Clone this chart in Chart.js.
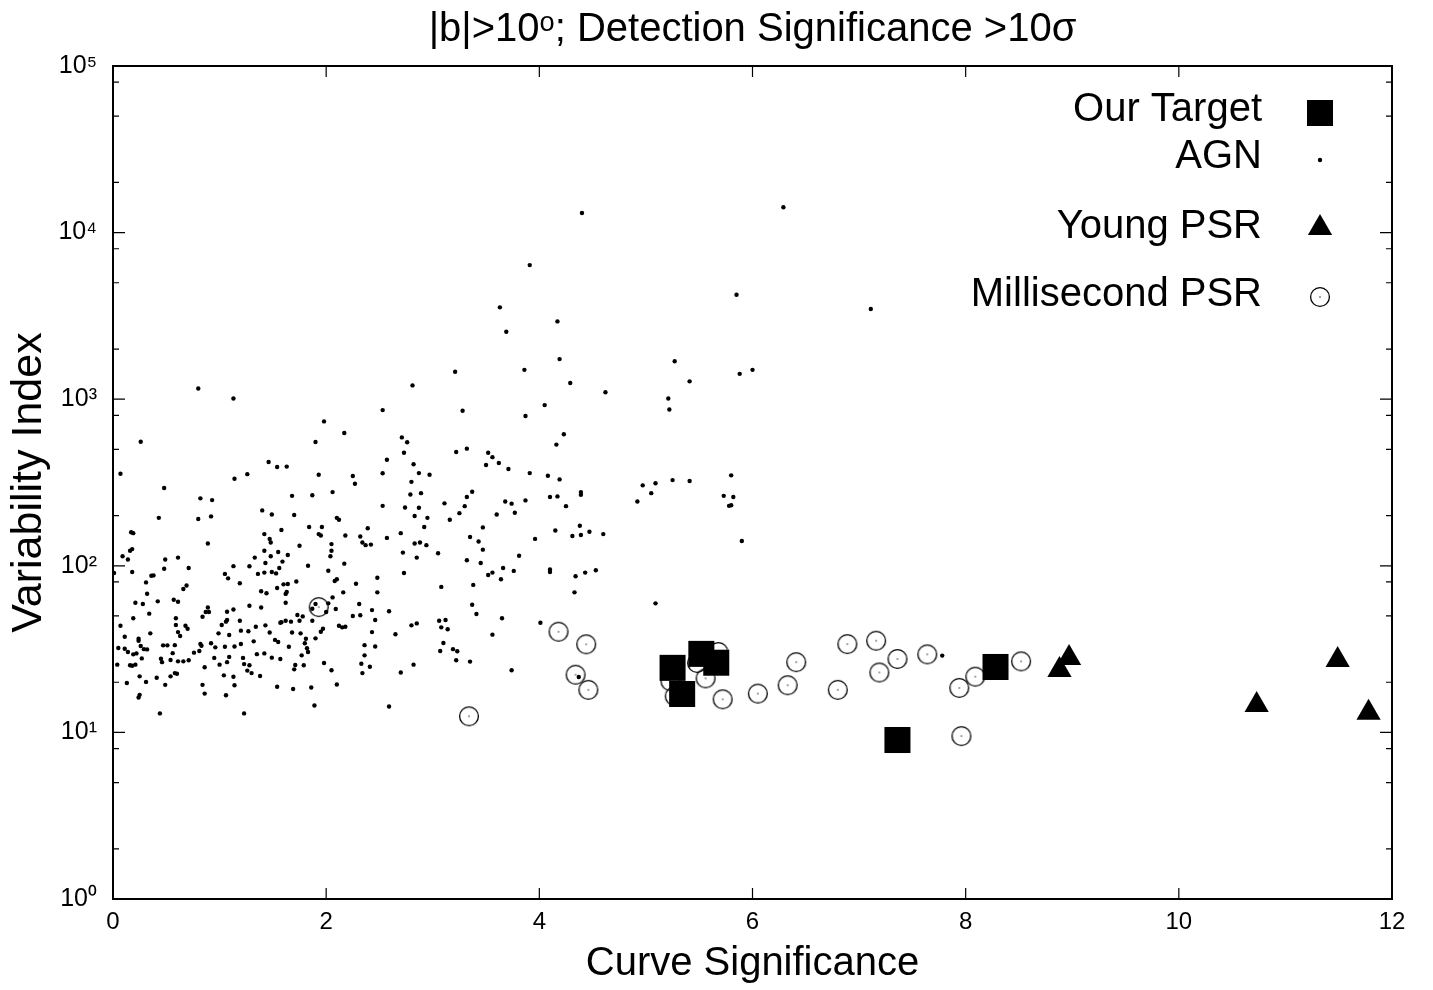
<!DOCTYPE html>
<html>
<head>
<meta charset="utf-8">
<script src="https://cdn.jsdelivr.net/npm/chart.js@4.4.0/dist/chart.umd.min.js"></script>
<style>
   html, body { margin: 0; padding: 0; background: #fff; }
   #chart1 { display: block; }
</style>
</head>
<body>
<canvas id="chart1" width="1433" height="990"></canvas>
<script>
/*=================================>> DATA  <<=================================*/

const chartTitle = "|b|>10ᵒ; Detection Significance >10σ";
const seriesNames = ["Our Target", "AGN", "Young PSR", "Millisecond PSR"];

// [curve significance, variability index]
const targetPoints = [
   [5.25, 24.4], [5.34, 17.0], [5.52, 29.6], [5.66, 26.2], [7.36, 9.0], [8.28, 24.7]
];

const youngPsrPoints = [
   [8.88, 23.7], [8.97, 28.0], [10.73, 14.6], [11.49, 27.2], [11.78, 13.1]
];

const mspPoints = [
   [1.93, 56.5], [4.18, 40.2], [4.44, 33.8], [4.34, 22.2], [4.46, 18.0], [3.34, 12.5],
   [5.23, 20.3], [5.27, 16.5], [5.48, 26.1], [5.68, 30.4], [5.56, 21.1], [5.72, 15.8],
   [6.05, 17.1], [6.33, 19.2], [6.41, 26.4], [6.80, 18.0], [6.89, 33.9], [7.16, 35.5],
   [7.19, 22.9], [7.36, 27.6], [7.64, 29.4], [7.94, 18.5], [8.09, 21.6], [8.52, 26.7],
   [7.96, 9.5]
];

const agnPoints = [
   [0.80, 1160], [1.13, 1010], [0.26, 555], [0.07, 357], [0.48, 293], [1.98, 736], [1.90, 553],
   [2.17, 627], [1.46, 420], [1.54, 392], [1.63, 394], [1.14, 333], [1.26, 355], [1.93, 352],
   [2.25, 346], [2.27, 311], [2.06, 277], [1.87, 265], [1.68, 263], [0.82, 254], [0.93, 248],
   [0.43, 194], [0.80, 191], [0.92, 198], [1.40, 215], [1.49, 203], [1.70, 202], [2.10, 194],
   [2.12, 189], [0.17, 159], [0.19, 157], [1.42, 155], [1.58, 164], [1.84, 171], [1.96, 171],
   [1.93, 155], [1.95, 152], [2.18, 152], [2.32, 150], [2.39, 168], [1.47, 145],
   [0.18, 126], [0.16, 123], [0.09, 114], [0.14, 109], [0.89, 136], [0.01, 90.5], [0.18, 91.8],
   [0.36, 87.1], [0.38, 87.6], [0.31, 79.5], [0.49, 109], [0.48, 96.0], [0.61, 112], [0.71, 97.0],
   [0.32, 68.0], [0.21, 60.0], [0.28, 59.0], [0.34, 51.6], [0.19, 48.4], [0.42, 61.2], [0.57, 62.6],
   [0.61, 60.8], [0.66, 72.5], [0.69, 76.2], [0.59, 48.4], [0.59, 44.1], [0.68, 43.7], [0.70, 41.9],
   [0.61, 40.0], [0.63, 37.9], [0.35, 39.3], [0.07, 43.7], [0.11, 37.5], [0.05, 32.1], [0.11, 31.8],
   [0.14, 30.4], [0.19, 29.4], [0.22, 29.8], [0.24, 36.5], [0.24, 35.5], [0.26, 33.0], [0.29, 31.6],
   [0.32, 31.5], [0.27, 27.8], [0.04, 25.5], [0.16, 25.3], [0.18, 25.1], [0.21, 25.5], [0.25, 21.7],
   [0.31, 20.1], [0.13, 19.8], [0.25, 16.8], [0.24, 16.2], [0.44, 13.0], [0.41, 21.3], [0.45, 27.7],
   [0.46, 26.4], [0.47, 33.3], [0.51, 33.3], [0.49, 19.3], [0.54, 21.7], [0.54, 27.2], [0.56, 29.9],
   [0.58, 33.4], [0.58, 22.7], [0.60, 22.5], [0.61, 26.7], [0.66, 26.7], [0.71, 27.1], [0.76, 30.1],
   [0.81, 30.8], [0.82, 33.9], [0.83, 33.1], [0.84, 49.5], [0.87, 52.8], [0.89, 56.2], [0.90, 52.8],
   [0.92, 34.3], [0.86, 24.6], [0.84, 19.3], [0.86, 17.1], [0.96, 32.4], [0.95, 28.0], [0.99, 39.3],
   [1.00, 25.5], [1.02, 44.1], [1.05, 32.7], [1.04, 22.0], [1.06, 16.7], [1.06, 46.2], [1.07, 47.3],
   [1.07, 53.0], [1.09, 38.4], [1.07, 26.4], [1.09, 28.4], [1.13, 54.7], [1.14, 32.8], [1.13, 21.6],
   [1.14, 19.2], [1.19, 46.8], [1.20, 40.8], [1.20, 33.9], [1.22, 28.0], [1.23, 25.7], [1.23, 13.0],
   [1.27, 40.5], [1.26, 23.5], [1.28, 25.3], [1.28, 57.6], [1.30, 22.7], [1.32, 35.2], [1.34, 43.1],
   [1.35, 29.5], [1.38, 21.8], [1.39, 56.2], [1.42, 29.8], [1.43, 43.9], [1.44, 68.4], [1.39, 70.3],
   [1.47, 39.8], [1.49, 28.1], [1.52, 35.9], [1.54, 18.8], [1.55, 34.9], [1.57, 27.6], [1.58, 45.9],
   [1.62, 46.8], [1.65, 32.7], [1.54, 73.6], [1.62, 67.8], [1.63, 69.6], [1.64, 77.7], [1.60, 77.4],
   [1.62, 60.0], [1.68, 39.8], [1.69, 18.2], [1.70, 23.9], [1.71, 25.4], [1.73, 50.7], [1.75, 46.8],
   [1.76, 39.3], [1.77, 29.0], [1.78, 49.7], [1.79, 25.3], [1.80, 34.3], [1.81, 36.5], [1.82, 32.0],
   [1.83, 30.4], [1.83, 100], [1.86, 18.6], [1.87, 46.8], [1.89, 14.5], [1.90, 36.7], [1.95, 40.2],
   [1.97, 41.9], [1.98, 26.1], [2.00, 52.8], [2.02, 59.5], [2.05, 23.6], [2.09, 55.0], [2.10, 19.4],
   [2.12, 43.7], [2.15, 42.7], [2.18, 43.1], [2.16, 69.3], [2.06, 64.6], [2.08, 81.0], [2.10, 83.0],
   [2.02, 93.3], [2.04, 114], [2.05, 123], [2.05, 135], [2.17, 103], [2.28, 78.0], [2.34, 138],
   [2.37, 133], [2.42, 134], [2.48, 84.7], [2.48, 69.3], [2.31, 59.0], [2.43, 54.2], [2.32, 50.5],
   [2.25, 50.0], [2.46, 47.3], [2.43, 40.0], [2.36, 33.4], [2.46, 32.8], [2.36, 29.0], [2.33, 25.8],
   [2.41, 24.8], [2.34, 22.7], [1.42, 123], [1.43, 104], [1.48, 114], [1.55, 121], [1.59, 106],
   [1.64, 116], [1.75, 132], [1.33, 112], [1.28, 99.3], [1.13, 99.5], [1.19, 78.5], [1.05, 89.4],
   [1.08, 84.1], [1.36, 89.4], [1.42, 91.0], [1.49, 91.8], [1.53, 90.0], [1.56, 97.0], [1.72, 80.5],
   [1.67, 46.2], [1.57, 45.5], [1.48, 138], [1.90, 59.0], [1.87, 55.2],
   [4.19, 1740], [3.86, 1500], [3.21, 1460], [4.29, 1250], [2.81, 1210], [4.62, 1100], [2.53, 860],
   [3.28, 853], [4.05, 922], [3.87, 793], [4.23, 616], [4.16, 534], [2.71, 590], [2.76, 551],
   [2.73, 477], [2.57, 433], [3.22, 482], [3.32, 505], [3.52, 477], [3.56, 449], [3.62, 414],
   [3.50, 403], [3.71, 381], [3.91, 360], [4.08, 347], [4.19, 330], [2.82, 407], [2.87, 360],
   [2.97, 352], [2.53, 359], [2.80, 319], [2.79, 268], [2.89, 273], [2.53, 229], [2.74, 224],
   [2.87, 223], [2.83, 199], [2.95, 194], [2.92, 171], [3.11, 237], [3.16, 189], [3.25, 207],
   [3.30, 228], [3.32, 259], [3.37, 278], [3.47, 170], [3.60, 203], [3.68, 243], [3.74, 236],
   [3.77, 208], [3.87, 247], [4.10, 259], [4.17, 261], [4.25, 228], [4.39, 277], [4.39, 267],
   [4.92, 243], [4.15, 163], [4.38, 174], [4.31, 151], [4.39, 153], [4.47, 160], [4.60, 155],
   [2.70, 157], [2.57, 147], [3.35, 149], [3.96, 145],
   [2.83, 136], [2.88, 138], [2.94, 133], [2.72, 120], [2.85, 112], [3.05, 119], [3.43, 140],
   [3.47, 125], [3.32, 108], [3.45, 104], [3.81, 115], [2.73, 90.5], [3.08, 74.7], [3.38, 76.8],
   [3.52, 88.0], [3.56, 91.0], [3.66, 97.0], [3.76, 93.2], [3.64, 83.0], [4.10, 95.0], [4.10, 91.8],
   [4.34, 86.5], [4.43, 91.0], [4.53, 94.0], [4.33, 69.3], [2.59, 53.4], [2.80, 43.9], [2.85, 45.1],
   [3.06, 46.8], [3.12, 47.3], [3.08, 42.7], [3.14, 41.6], [3.37, 58.4], [3.41, 51.4], [3.65, 48.4],
   [4.01, 45.5], [2.65, 38.8], [3.10, 34.4], [3.07, 30.8], [3.19, 31.6], [3.23, 30.7], [3.22, 27.1],
   [3.35, 26.6], [3.56, 38.6], [2.82, 25.5], [2.70, 22.9], [3.74, 23.6], [2.59, 14.3], [4.37, 21.5],
   [5.27, 1690], [5.41, 1280], [5.88, 1420], [6.00, 1500], [5.21, 1010], [5.22, 868], [4.97, 304],
   [5.09, 313], [5.05, 273], [5.25, 327], [5.41, 323], [5.80, 349], [5.73, 263], [5.82, 259],
   [5.78, 229], [5.80, 231], [5.90, 141], [5.09, 59.5], [7.78, 28.9], [7.11, 3480], [4.40, 13100],
   [6.29, 14200], [3.91, 6380], [5.85, 4240], [3.63, 3560], [4.17, 2930], [3.69, 2540]
];

const xTickValues = [0, 2, 4, 6, 8, 10, 12];
const yMajorTicks = [1, 10, 100, 1000, 10000, 100000];
const yTickLabels = ["10⁰", "10¹", "10²", "10³", "10⁴", "10⁵"];
const yMinorTicks = [2, 5, 8, 20, 50, 80, 200, 500, 800, 2000, 5000, 8000, 20000, 50000, 80000];

/*=================================>> CHART  <<=================================*/

const FONT = "'Liberation Sans', Arial, Helvetica, sans-serif";

function toXY(points) {
   return points.map(p => ({ x: p[0], y: p[1] }));
}

function makeMspMarker() {
   const c = document.createElement("canvas");
   c.width = 22;
   c.height = 22;
   const g = c.getContext("2d");
   g.strokeStyle = "#000";
   g.lineWidth = 1.3;
   g.beginPath();
   g.arc(11, 11, 9.4, 0, Math.PI * 2);
   g.stroke();
   g.fillStyle = "#000";
   g.fillRect(10.4, 10.4, 1.2, 1.2);
   return c;
}

// gnuplot style border with inward ticks on all four sides
const frameTicks = {
   id: "frameTicks",
   afterDraw(chart) {
      const { ctx, chartArea: a, scales: { x, y } } = chart;
      ctx.save();
      ctx.strokeStyle = "#000";
      ctx.lineWidth = 1.2;
      ctx.beginPath();
      for (const v of xTickValues) {
         const px = x.getPixelForValue(v);
         ctx.moveTo(px, a.bottom); ctx.lineTo(px, a.bottom - 11);
         ctx.moveTo(px, a.top); ctx.lineTo(px, a.top + 11);
      }
      for (const v of yMajorTicks) {
         const py = y.getPixelForValue(v);
         ctx.moveTo(a.left, py); ctx.lineTo(a.left + 12, py);
         ctx.moveTo(a.right, py); ctx.lineTo(a.right - 12, py);
      }
      for (const v of yMinorTicks) {
         const py = y.getPixelForValue(v);
         ctx.moveTo(a.left, py); ctx.lineTo(a.left + 6, py);
         ctx.moveTo(a.right, py); ctx.lineTo(a.right - 6, py);
      }
      ctx.stroke();
      ctx.lineWidth = 2;
      ctx.strokeRect(a.left, a.top, a.right - a.left, a.bottom - a.top);
      ctx.restore();
   }
};

// key in the upper right corner: text right aligned, marker on its right
const sideKey = {
   id: "sideKey",
   afterDraw(chart) {
      const ctx = chart.ctx;
      const textRows = [110, 157, 227, 295];
      const markRows = [113, 160, 228, 297];
      ctx.save();
      ctx.font = "40px " + FONT;
      ctx.textAlign = "right";
      ctx.textBaseline = "middle";
      chart.data.datasets.forEach((ds, i) => {
         ctx.fillStyle = "#000";
         ctx.strokeStyle = "#000";
         ctx.fillText(ds.label, 1262, textRows[i]);
         Chart.helpers.drawPoint(ctx, {
            pointStyle: ds.pointStyle,
            radius: ds.pointRadius,
            borderWidth: 0,
            rotation: 0
         }, 1320, markRows[i]);
      });
      ctx.restore();
   }
};

function drawChart(canva) {
   const mspMarker = makeMspMarker();
   const config = {
      type: "scatter",
      data: {
         datasets: [
         {
            label: seriesNames[0],
            data: toXY(targetPoints),
            pointStyle: "rect",
            pointRadius: 18.4,
            pointBorderWidth: 0,
            backgroundColor: "#000",
            borderColor: "#000",
            clip: false,
         },
         {
            label: seriesNames[1],
            data: toXY(agnPoints),
            pointStyle: "circle",
            pointRadius: 2.2,
            pointBorderWidth: 0,
            backgroundColor: "#000",
            borderColor: "#000",
            clip: false,
         },
         {
            label: seriesNames[2],
            data: toXY(youngPsrPoints),
            pointStyle: "triangle",
            pointRadius: 14,
            pointBorderWidth: 0,
            backgroundColor: "#000",
            borderColor: "#000",
            clip: false,
         },
         {
            label: seriesNames[3],
            data: toXY(mspPoints),
            pointStyle: mspMarker,
            pointRadius: 10,
            pointBorderWidth: 0,
            backgroundColor: "#000",
            borderColor: "#000",
            clip: false,
         },
      ]},
      options: {
         responsive: false,
         animation: false,
         events: [],
         layout: {
            padding: { left: 0, right: 41, top: 0, bottom: 0 }
         },
         plugins: {
            legend: { display: false },
            tooltip: { enabled: false },
            title: {
               display: true,
               text: chartTitle,
               fullSize: false,
               color: "#000",
               font: { family: FONT, size: 40, weight: "normal", lineHeight: 1.2 },
               padding: { top: 6, bottom: 12 }
            }
         },
         scales: {
            x: {
               type: "linear",
               min: 0,
               max: 12,
               afterFit(scale) { scale.height = 91; },
               afterBuildTicks(scale) { scale.ticks = xTickValues.map(v => ({ value: v })); },
               grid: { display: false, drawTicks: false },
               border: { display: false },
               ticks: {
                  color: "#000",
                  font: { family: FONT, size: 24 },
                  padding: 9,
                  maxRotation: 0,
                  autoSkip: false
               },
               title: {
                  display: true,
                  text: "Curve Significance",
                  color: "#000",
                  font: { family: FONT, size: 40, lineHeight: 1.2 },
                  padding: { top: 0, bottom: 2 }
               }
            },
            y: {
               type: "logarithmic",
               min: 1,
               max: 100000,
               afterFit(scale) { scale.width = 113; },
               afterBuildTicks(scale) { scale.ticks = yMajorTicks.map(v => ({ value: v, major: true })); },
               grid: { display: false, drawTicks: false },
               border: { display: false },
               ticks: {
                  color: "#000",
                  font: { family: FONT, size: 25 },
                  padding: 16,
                  autoSkip: false,
                  callback: (v) => {
                     const i = yMajorTicks.indexOf(v);
                     return i >= 0 ? yTickLabels[i] : "";
                  }
               },
               title: {
                  display: true,
                  text: "Variability Index",
                  color: "#000",
                  font: { family: FONT, size: 43, lineHeight: 1.2 },
                  padding: { top: 3, bottom: 0 }
               }
            }
         }
      },
      plugins: [frameTicks, sideKey]
   };
   return new Chart(canva, config);
}

(function main() {
   const canva = document.querySelector("#chart1");
   drawChart(canva);
})();
</script>
</body>
</html>
